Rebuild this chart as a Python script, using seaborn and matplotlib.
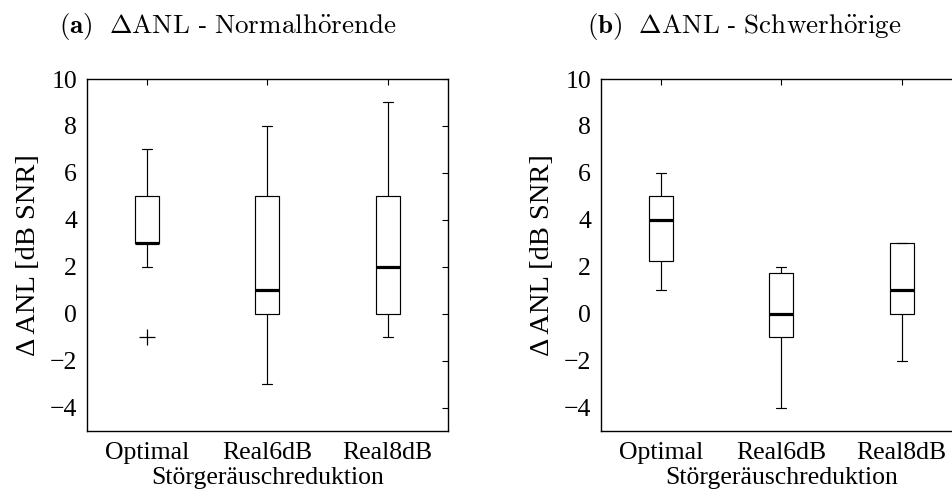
import numpy as np
import pandas as pd
import matplotlib
matplotlib.use("Agg")
import matplotlib.pyplot as plt
import seaborn as sns

# ---------------- data ----------------
conditions = ["Optimal", "Real6dB", "Real8dB"]

# (a) Normalhörende
nh_optimal = [-1, 2, 3, 3, 3, 3, 5, 5, 5, 7]
nh_real6 = [-3, 0, 0, 0, 1, 1, 5, 5, 5, 8]
nh_real8 = [-1, 0, 0, 0, 2, 2, 5, 5, 5, 9]

# (b) Schwerhörige
sh_optimal = [1, 2, 2, 3, 4, 4, 5, 5, 5, 6]
sh_real6 = [-4, -1, -1, -1, 0, 0, 1, 2, 2, 2]
sh_real8 = [-2, 0, 0, 0, 1, 1, 3, 3, 3, 3]

yticks = [-4, -2, 0, 2, 4, 6, 8, 10]
panel_titles = [
    r"$\mathbf{(a)}\ \ \Delta\mathrm{ANL\ ‐\ Normalh\ddot{o}rende}$",
    r"$\mathbf{(b)}\ \ \Delta\mathrm{ANL\ ‐\ Schwerh\ddot{o}rige}$",
]
xlabel_text = "Störgeräuschreduktion"
ylabel_text = "Δ ANL [dB SNR]"


def long_df(series):
    rows = []
    for cond, vals in zip(conditions, series):
        for v in vals:
            rows.append({"cond": cond, "val": v})
    return pd.DataFrame(rows)


df_a = long_df([nh_optimal, nh_real6, nh_real8])
df_b = long_df([sh_optimal, sh_real6, sh_real8])

# ---------------- style ----------------
sns.set_theme(style="white")
plt.rcParams["font.family"] = ["Liberation Serif", "DejaVu Serif"]
plt.rcParams["mathtext.fontset"] = "cm"
plt.rcParams["axes.unicode_minus"] = True

W, H = 952, 497
fig = plt.figure(figsize=(W / 100, H / 100), dpi=100)
ax_w, ax_h = 361.3 / W, 352 / H
ax_bottom = (H - 431) / H
ax_a = fig.add_axes([86.7 / W, ax_bottom, ax_w, ax_h])
ax_b = fig.add_axes([600.7 / W, ax_bottom, ax_w, ax_h])

BOX_W = 0.2
CAP_W = 0.085

for ax, df in ((ax_a, df_a), (ax_b, df_b)):
    sns.boxplot(
        data=df, x="cond", y="val", order=conditions, ax=ax,
        width=BOX_W, color="white", linecolor="black", linewidth=0.85,
        saturation=1, whis=1.5, fliersize=11,
        flierprops=dict(marker="+", markeredgecolor="black",
                        markeredgewidth=0.9),
        medianprops=dict(color="black", linewidth=2.3),
    )
    # shorten whisker caps
    for ln in ax.lines:
        xd = np.asarray(ln.get_xdata(), dtype=float)
        yd = np.asarray(ln.get_ydata(), dtype=float)
        if len(xd) == 2 and yd[0] == yd[1] and abs((xd[1] - xd[0]) - 0.5 * BOX_W) < 1e-6:
            c = xd.mean()
            ln.set_xdata([c - CAP_W / 2, c + CAP_W / 2])

    ax.set_xlim(-0.5, 2.5)
    ax.set_ylim(-5, 10)
    ax.set_yticks(yticks)
    ax.tick_params(axis="both", direction="in", length=4, width=0.8,
                   top=True, right=True, labelsize=18.5, colors="black")
    ax.tick_params(axis="x", pad=8)
    ax.tick_params(axis="y", pad=7)
    for s in ax.spines.values():
        s.set_visible(True)
        s.set_color("black")
        s.set_linewidth(1.0)
    ax.set_xlabel(xlabel_text, fontsize=18.5, color="black", labelpad=2)
    ax.set_ylabel(ylabel_text, fontsize=20.5, color="black")
    ax.yaxis.set_label_coords(-0.1265, 0.5)
    ax.set_facecolor("white")

fig.text(228 / W, 1 - 33 / H, panel_titles[0], fontsize=19.5, ha="center",
         va="baseline", color="black")
fig.text(744 / W, 1 - 33 / H, panel_titles[1], fontsize=19.5, ha="center",
         va="baseline", color="black")

fig.savefig("out.png", dpi=100, facecolor="white")
